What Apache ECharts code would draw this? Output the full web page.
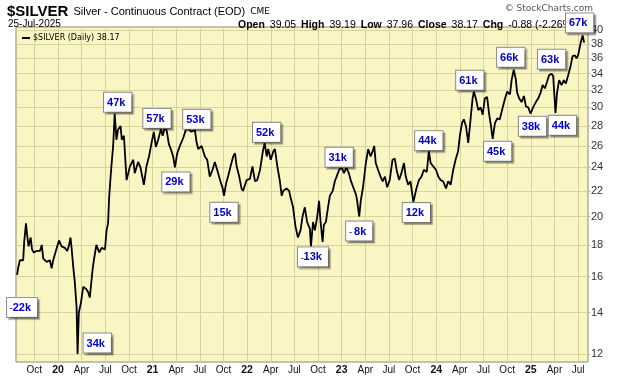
<!DOCTYPE html>
<html>
<head>
<meta charset="utf-8">
<script src="https://cdn.jsdelivr.net/npm/echarts@6/dist/echarts.min.js"></script>
<style>
  html, body { margin: 0; padding: 0; background: #fff; }
  #chart { width: 620px; height: 376px; }
</style>
</head>
<body>
<div id="chart"></div>
<script>
// $SILVER daily closes (about one point every 10 days)
var dates = [
  '2019-07-26','2019-07-30','2019-08-06','2019-08-12','2019-08-19','2019-08-23','2019-08-30','2019-09-04','2019-09-09','2019-09-17',
  '2019-09-22','2019-09-29','2019-10-10','2019-10-23','2019-10-30','2019-11-05','2019-11-18','2019-11-30','2019-12-07','2019-12-13','2019-12-27',
  '2020-01-05','2020-01-15','2020-01-28','2020-02-06','2020-02-13','2020-02-18','2020-02-22','2020-02-28','2020-03-05','2020-03-12',
  '2020-03-16','2020-03-21','2020-03-29','2020-04-07','2020-04-17','2020-04-26','2020-05-02','2020-05-13','2020-05-18','2020-05-28',
  '2020-06-08','2020-06-17','2020-06-30','2020-07-06','2020-07-12','2020-07-16','2020-07-21','2020-07-25','2020-08-01','2020-08-07',
  '2020-08-14','2020-08-20','2020-08-30','2020-09-04','2020-09-12','2020-09-22','2020-10-05','2020-10-18','2020-10-24','2020-11-06',
  '2020-11-15','2020-11-28','2020-12-08','2020-12-18','2020-12-28',
  '2021-01-06','2021-01-14','2021-01-23','2021-02-03','2021-02-09','2021-02-18','2021-02-24','2021-03-03','2021-03-11','2021-03-20',
  '2021-03-27','2021-04-05','2021-04-15','2021-04-28','2021-05-08','2021-05-17','2021-05-30','2021-06-12','2021-06-19','2021-06-25',
  '2021-07-08','2021-07-21','2021-07-30','2021-08-09','2021-08-20','2021-08-29','2021-09-07','2021-09-18','2021-09-28','2021-10-03',
  '2021-10-11','2021-10-20','2021-10-29','2021-11-08','2021-11-15','2021-11-21','2021-12-01','2021-12-10','2021-12-16','2021-12-30',
  '2022-01-12','2022-01-22','2022-02-01','2022-02-09','2022-02-19','2022-03-01','2022-03-08','2022-03-16','2022-03-22','2022-04-01',
  '2022-04-11','2022-04-17','2022-04-26','2022-05-06','2022-05-13','2022-05-19','2022-06-01','2022-06-11','2022-06-16','2022-06-26',
  '2022-07-05','2022-07-15','2022-07-25','2022-08-02','2022-08-11','2022-08-20','2022-08-31','2022-09-04','2022-09-12','2022-09-19',
  '2022-09-28','2022-10-05','2022-10-11','2022-10-19','2022-10-24','2022-11-01','2022-11-09','2022-11-16','2022-11-27','2022-12-05',
  '2022-12-12','2022-12-22',
  '2023-01-01','2023-01-10','2023-01-20','2023-01-29','2023-02-05','2023-02-14','2023-02-24','2023-02-28','2023-03-08','2023-03-14',
  '2023-03-23','2023-04-03','2023-04-12','2023-04-21','2023-04-29','2023-05-05','2023-05-11','2023-05-20','2023-05-30','2023-06-07',
  '2023-06-16','2023-06-24','2023-07-04','2023-07-15','2023-07-24','2023-07-31','2023-08-10','2023-08-19','2023-08-29','2023-09-05',
  '2023-09-14','2023-09-23','2023-10-04','2023-10-16','2023-10-26','2023-11-05','2023-11-14','2023-11-25','2023-12-03','2023-12-10',
  '2023-12-20','2023-12-31',
  '2024-01-09','2024-01-18','2024-01-28','2024-02-08','2024-02-16','2024-02-25','2024-03-06','2024-03-15','2024-03-25','2024-04-01',
  '2024-04-09','2024-04-16','2024-04-24','2024-05-03','2024-05-12','2024-05-20','2024-05-25','2024-06-02','2024-06-11','2024-06-20',
  '2024-06-28','2024-07-06','2024-07-15','2024-07-23','2024-07-30','2024-08-06','2024-08-15','2024-08-24','2024-09-03','2024-09-14',
  '2024-09-23','2024-10-01','2024-10-12','2024-10-19','2024-10-27','2024-11-04','2024-11-09','2024-11-17','2024-11-26','2024-12-05',
  '2024-12-13','2024-12-22','2024-12-31',
  '2025-01-10','2025-01-21','2025-01-30','2025-02-08','2025-02-15','2025-02-23','2025-03-03','2025-03-11','2025-03-21','2025-03-27',
  '2025-04-01','2025-04-05','2025-04-11','2025-04-19','2025-04-28','2025-05-07','2025-05-15','2025-05-24','2025-06-02','2025-06-10',
  '2025-06-19','2025-06-25','2025-07-01','2025-07-11','2025-07-19','2025-07-25'
];
var prices = [
  16.1,16.5,17.0,17.1,17.0,18.2,19.5,18.6,17.9,18.5,
  17.7,17.5,17.6,17.6,18.0,17.1,16.9,17.0,16.5,17.0,17.8,
  18.3,17.9,17.8,17.6,18.0,18.5,17.8,16.6,15.7,14.3,
  12.0,14.0,14.5,15.4,15.3,15.1,14.8,16.4,17.0,18.0,
  17.5,17.8,17.7,19.0,19.5,21.4,22.9,24.1,26.0,29.3,
  26.6,27.6,28.0,26.6,27.0,22.9,24.1,24.7,23.5,24.5,
  24.0,22.5,24.1,25.0,26.3,
  27.4,25.9,26.6,27.7,27.0,28.0,27.4,26.2,25.7,25.0,
  24.0,25.3,26.0,26.8,27.6,27.7,27.4,27.6,26.3,25.7,
  26.0,25.0,24.7,23.2,23.8,24.5,23.8,22.9,22.2,21.6,
  22.6,23.3,24.1,25.0,25.3,24.1,23.2,22.2,22.0,22.9,
  23.0,24.1,22.8,22.9,23.8,25.5,26.3,25.0,25.7,24.7,
  25.5,25.7,24.1,22.8,21.6,22.0,22.2,22.0,21.5,20.7,
  19.3,18.5,19.0,20.0,20.7,19.6,19.1,17.9,19.6,19.0,
  20.0,21.2,19.6,18.2,19.4,19.6,20.7,21.6,22.0,22.8,
  23.2,23.8,
  24.0,23.5,24.0,23.5,22.9,22.3,21.7,21.2,20.0,21.2,
  22.3,24.4,25.7,25.0,25.5,26.0,24.4,23.8,23.2,22.8,
  23.2,22.3,22.9,24.7,24.8,23.8,22.9,23.5,24.4,23.2,
  22.5,22.8,21.1,22.2,22.9,23.2,23.8,23.6,25.5,24.4,
  24.1,23.8,
  23.2,22.9,22.8,22.2,22.8,22.5,23.8,24.7,25.5,27.0,
  28.3,28.7,28.0,26.3,28.7,31.0,31.8,31.0,29.7,30.0,
  29.2,31.0,31.2,29.3,28.1,26.7,28.3,28.8,28.7,30.0,
  31.0,31.8,31.5,33.3,34.5,33.3,31.7,31.0,30.6,31.3,
  30.1,30.0,29.3,
  30.0,30.6,31.0,31.7,32.6,32.2,33.0,33.8,34.0,33.7,
  31.3,29.4,31.7,33.2,32.6,33.2,32.8,33.8,34.9,36.3,
  36.4,36.0,36.4,38.1,39.2,38.17
];

// open interest style call-outs at swing points
var annDates = ['2019-07-26','2020-03-16','2020-08-07','2021-02-03','2021-06-12','2021-03-27','2021-10-03','2022-03-08','2022-12-22','2022-09-04',
                '2023-03-08','2023-10-04','2023-12-03','2024-05-25','2024-08-06','2024-10-27','2024-12-31','2025-03-21','2025-04-05','2025-07-19'];
var annTexts = ['-22k','34k','47k','57k','53k','29k','15k','52k','31k','-13k',
                '- 8k','12k','44k','61k','45k','66k','38k','63k','44k','67k'];

var yTicks = [12, 14, 16, 18, 20, 22, 24, 26, 28, 30, 32, 34, 36, 38, 40];
var monthNames = {3: 'Apr', 6: 'Jul', 9: 'Oct'};

var quoteLabels = ['Open', 'High', 'Low', 'Close', 'Chg'];
var quoteValues = ['39.05', '39.19', '37.96', '38.17', '-0.88 (-2.26%)'];

// label placement for each call-out: [position, distance, dx, dy]
var annLayout = [
  ['bottom', 23, 5, 0], ['right', 6, 0, -11], ['top', 2, 3, 0], ['top', 1, -4, 0], ['top', 1, 2, 0],
  ['bottom', 5, 1, 0], ['bottom', 7, 0, 0], ['top', 1, 2, 0], ['top', 3, 0, 0], ['bottom', 1, 2, 0],
  ['bottom', 5, 0, 0], ['bottom', 1, 3, 0], ['top', 1, 0, 0], ['top', 2, -4, 0], ['bottom', 3, 5, 0],
  ['top', 3, -3, 0], ['bottom', 3, 2, 0], ['top', 5, 0, 0], ['bottom', 3, 7, 0], ['top', 3, -3, 0]
];

// months since Jan 2019
function toMonths(s) {
  var p = s.split('-');
  var y = +p[0], m = +p[1], d = +p[2];
  var dim = new Date(y, m, 0).getDate();
  return (y - 2019) * 12 + (m - 1) + (d - 1) / dim;
}

var lineData = [];
for (var i = 0; i < dates.length; i++) {
  lineData.push([toMonths(dates[i]), Math.log(prices[i])]);
}

var annData = [];
for (var j = 0; j < annDates.length; j++) {
  var k = dates.indexOf(annDates[j]);
  var t = annTexts[j];
  var txt = t.charAt(0) === '-' ? '{m|' + t.replace(/[0-9k]/g, '') + '}{t|' + t.replace(/[^0-9k]/g, '') + '}' : '{t|' + t + '}';
  var lay = annLayout[j];
  annData.push({
    value: [toMonths(dates[k]), Math.log(prices[k])],
    label: { show: true, formatter: txt, position: lay[0], distance: lay[1], offset: [lay[2], lay[3]] }
  });
}

var quarterTicks = [];
for (var q = 9; q <= 78; q += 3) quarterTicks.push(q);
var yLogTicks = yTicks.map(function (v) { return Math.log(v); });

var chart = echarts.init(document.getElementById('chart'));

var ohlcText = quoteLabels.map(function (l, i) { return '{l|' + l + '} {v|' + quoteValues[i] + '}'; }).join(' ');

var option = {
  animation: false,
  backgroundColor: '#fff',
  title: [
    {
      left: 2, top: -2,
      text: '{a|$SILVER} {b|Silver - Continuous Contract (EOD)} {c|CME}',
      textStyle: {
        rich: {
          a: { fontSize: 15, fontWeight: 'bold', fontFamily: 'Liberation Sans', color: '#000' },
          b: { fontSize: 11, fontWeight: 'normal', fontFamily: 'Liberation Sans', color: '#000' },
          c: { fontSize: 9, fontWeight: 'normal', fontFamily: 'DejaVu Sans', color: '#000' }
        }
      }
    },
    {
      left: 3, top: 14,
      text: '25-Jul-2025',
      textStyle: { fontSize: 10, fontWeight: 'normal', fontFamily: 'Liberation Sans', color: '#000' }
    },
    {
      left: 233, top: 11,
      text: ohlcText,
      textStyle: {
        rich: {
          l: { fontSize: 10.5, fontWeight: 'bold', fontFamily: 'Liberation Sans', color: '#000' },
          v: { fontSize: 10.5, fontWeight: 'normal', fontFamily: 'Liberation Sans', color: '#000' }
        }
      }
    },
    {
      right: 22, top: -1,
      text: '\u00a9 StockCharts.com',
      textStyle: { fontSize: 9, fontWeight: 'normal', fontFamily: 'DejaVu Sans', color: '#555' }
    }
  ],
  legend: {
    left: 17, top: 29,
    itemWidth: 8, itemHeight: 2, itemGap: 4,
    icon: 'rect',
    data: ['$SILVER (Daily) 38.17'],
    textStyle: { fontSize: 8, fontFamily: 'DejaVu Sans', color: '#000', padding: [0, 0, 0, -2] },
    selectedMode: false
  },
  grid: {
    left: 16, right: 32, top: 27, bottom: 14,
    show: true, backgroundColor: '#faf6c4', borderColor: '#8c8c70', borderWidth: 1
  },
  xAxis: {
    type: 'value',
    min: 6.67, max: 79.26,
    axisLine: { show: false },
    axisTick: { show: false, customValues: quarterTicks },
    splitLine: { show: true, lineStyle: { color: '#d9d49c', width: 1 } },
    axisLabel: {
      customValues: quarterTicks,
      margin: 3,
      fontSize: 10, fontFamily: 'Liberation Sans', color: '#111',
      formatter: function (v) {
        var m = Math.round(v) % 12;
        if (m === 0) return '{y|' + String(2019 + Math.round(v) / 12).slice(2) + '}';
        return monthNames[m];
      },
      rich: { y: { fontSize: 10.5, fontWeight: 'bold', fontFamily: 'Liberation Sans', color: '#111' } }
    }
  },
  yAxis: {
    type: 'value',
    position: 'right',
    min: 2.4552, max: 3.7000,
    axisLine: { show: false },
    axisTick: { show: true, length: 2, customValues: yLogTicks, lineStyle: { color: '#aaa' } },
    splitLine: { show: true, lineStyle: { color: '#d9d49c', width: 1 } },
    axisLabel: {
      customValues: yLogTicks,
      margin: 3,
      fontSize: 11, fontFamily: 'Liberation Sans', color: '#333',
      formatter: function (v) { return String(Math.round(Math.exp(v))); }
    }
  },
  series: [
    {
      name: '$SILVER (Daily) 38.17',
      type: 'line',
      data: lineData,
      showSymbol: false,
      silent: true,
      itemStyle: { color: '#000' },
      lineStyle: { color: '#000', width: 1.8 },
      z: 3
    },
    {
      type: 'scatter',
      data: annData,
      symbolSize: 0,
      silent: true,
      z: 10,
      itemStyle: { opacity: 1, color: '#000' },
      label: {
        backgroundColor: '#ffffff',
        borderColor: '#8a8a8a',
        borderWidth: 1,
        padding: [3, 6, 2, 3],
        shadowColor: 'rgba(0,0,0,0.28)',
        shadowOffsetX: 2,
        shadowOffsetY: 2,
        shadowBlur: 1,
        rich: {
          t: { fontSize: 11, fontWeight: 'bold', fontFamily: 'Liberation Sans', color: '#0000c8', lineHeight: 14 },
          m: { fontSize: 8, fontWeight: 'bold', fontFamily: 'Liberation Sans', color: '#0000c8', lineHeight: 14 }
        }
      }
    }
  ]
};

chart.setOption(option);
</script>
</body>
</html>
